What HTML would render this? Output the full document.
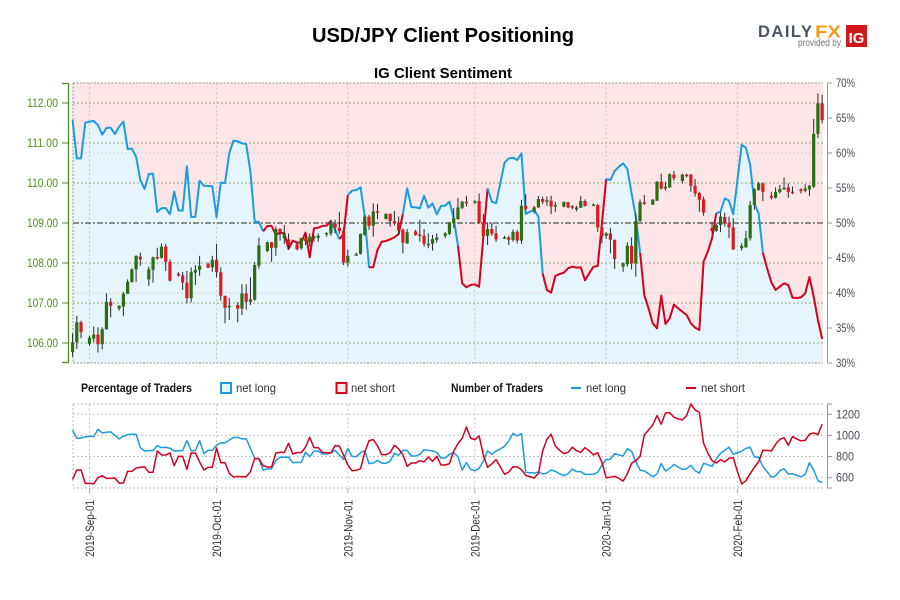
<!DOCTYPE html>
<html lang="en">
<head>
<meta charset="utf-8">
<title>USD/JPY Client Positioning</title>
<style>
html,body{margin:0;padding:0;background:#fff;width:900px;height:600px;overflow:hidden}
svg{display:block;font-family:"Liberation Sans",sans-serif}
</style>
</head>
<body>
<svg id="chart" width="900" height="600" viewBox="0 0 900 600" xmlns="http://www.w3.org/2000/svg">
  <rect x="0" y="0" width="900" height="600" fill="#ffffff"/>
  <text x="443" y="42" text-anchor="middle" font-size="20" font-weight="bold" fill="#000" textLength="262" lengthAdjust="spacingAndGlyphs">USD/JPY Client Positioning</text>
  <text x="443" y="78" text-anchor="middle" font-size="15" font-weight="bold" fill="#000" textLength="138" lengthAdjust="spacingAndGlyphs">IG Client Sentiment</text>
  <g>
    <text x="758" y="37" font-size="16.500" font-weight="bold" fill="#4a5560" textLength="54" lengthAdjust="spacing">DAILY</text>
    <text x="815" y="37.500" font-size="17.500" font-weight="bold" fill="#f39a1e" textLength="26" lengthAdjust="spacingAndGlyphs">FX</text>
    <text x="798" y="46" font-size="10" fill="#777" textLength="43" lengthAdjust="spacingAndGlyphs">provided by</text>
    <rect x="846" y="25" width="21" height="22" fill="#d0191c"/>
    <text x="856.500" y="43" text-anchor="middle" font-size="15" font-weight="bold" fill="#fff">IG</text>
  </g>
  <g id="main-layer"></g>
  <g id="legend-layer">
    <text x="81" y="392" font-size="12" font-weight="bold" fill="#111" textLength="111" lengthAdjust="spacingAndGlyphs">Percentage of Traders</text>
    <rect x="221" y="383" width="10" height="10" fill="#e6f4fc" stroke="#1b9be0" stroke-width="2"/>
    <text x="236" y="392" font-size="12" fill="#333" textLength="40" lengthAdjust="spacingAndGlyphs">net long</text>
    <rect x="336.500" y="383" width="10" height="10" fill="#fbe5e6" stroke="#d4001f" stroke-width="2"/>
    <text x="351" y="392" font-size="12" fill="#333" textLength="44" lengthAdjust="spacingAndGlyphs">net short</text>
    <text x="451" y="392" font-size="12" font-weight="bold" fill="#111" textLength="92" lengthAdjust="spacingAndGlyphs">Number of Traders</text>
    <line x1="571" y1="388" x2="581" y2="388" stroke="#1b9be0" stroke-width="2"/>
    <text x="586" y="392" font-size="12" fill="#333" textLength="40" lengthAdjust="spacingAndGlyphs">net long</text>
    <line x1="686" y1="388" x2="696" y2="388" stroke="#d4001f" stroke-width="2"/>
    <text x="701" y="392" font-size="12" fill="#333" textLength="44" lengthAdjust="spacingAndGlyphs">net short</text>
  </g>
  <g id="lower-layer"></g>
</svg>
<script>
const firstDay = -4;
const dateTicks = ['2019-09-01','2019-10-01','2019-11-01','2019-12-01','2020-01-01','2020-02-01'];
const dateTickLabels = ['2019-Sep-01','2019-Oct-01','2019-Nov-01','2019-Dec-01','2020-Jan-01','2020-Feb-01'];
const priceTicks = [106,107,108,109,110,111,112];
const priceTickLabels = ['106.00','107.00','108.00','109.00','110.00','111.00','112.00'];
const pctTicks = [30,35,40,45,50,55,60,65,70];
const pctTickLabels = ['30%','35%','40%','45%','50%','55%','60%','65%','70%'];
const countTicks = [600,800,1000,1200];
const countTickLabels = ['600','800','1000','1200'];

const candleDays = [-4,-3,-2,0,1,2,3,4,5,7,8,9,10,11,12,14,15,16,17,18,19,21,22,23,24,25,26,28,29,30,31,32,33,35,36,37,38,39,40,42,43,44,45,46,47,49,50,51,52,53,54,56,57,58,59,60,61,63,64,65,66,67,68,70,71,72,73,74,75,77,78,79,80,81,82,84,85,86,87,88,89,91,92,93,94,95,96,98,99,100,101,102,103,105,106,107,108,109,110,112,113,114,115,116,117,119,120,121,122,123,124,126,127,128,129,130,131,133,134,135,136,137,138,140,141,142,143,144,145,147,148,149,150,151,152,154,155,156,157,158,159,161,162,163,164,165,166,168,169,170,171,172,173];
const candleOpen = [105.77,106.02,106.52,105.98,106.11,106.21,105.97,106.34,107.03,106.86,106.91,107.23,107.52,107.84,108.16,107.59,107.83,108.15,108.13,108.41,108.03,107.73,107.69,107.51,107.12,107.76,107.83,107.98,107.89,108.08,107.77,107.18,106.91,106.95,106.86,107.24,107.03,107.08,107.93,108.30,108.52,108.38,108.85,108.62,108.59,108.47,108.37,108.62,108.52,108.64,108.63,108.73,108.74,108.99,108.88,108.80,108.01,108.20,108.23,108.70,109.16,108.93,109.29,109.10,109.23,109.05,109.01,108.83,108.49,108.79,108.71,108.68,108.47,108.48,108.58,108.68,108.73,108.99,109.10,109.38,109.53,109.53,109.55,109.01,108.68,108.85,108.74,108.63,108.64,108.58,108.78,108.56,109.43,109.29,109.39,109.60,109.55,109.56,109.41,109.41,109.52,109.42,109.34,109.38,109.55,109.44,109.45,108.89,108.68,108.74,108.58,107.91,107.97,108.43,107.99,109.05,109.52,109.46,109.56,110.03,109.86,109.89,110.21,110.05,110.21,110.21,109.93,109.75,109.59,108.88,108.80,108.95,109.15,108.99,108.89,108.37,108.39,108.62,109.45,109.83,109.99,109.68,109.63,109.77,109.85,109.89,109.78,109.84,109.81,109.84,109.91,111.23,111.99];
const candleHigh = [106.24,106.68,106.56,106.18,106.41,106.39,106.39,107.24,107.12,106.94,107.28,107.59,107.87,108.19,108.26,107.91,108.16,108.38,108.49,108.48,108.09,107.77,107.78,107.80,107.89,107.95,108.18,108.01,108.18,108.48,107.89,107.18,107.13,107.02,107.47,107.47,107.64,108.02,108.63,108.53,108.53,108.91,108.87,108.95,108.74,108.52,108.63,108.74,108.74,108.70,108.74,108.77,109.08,109.08,109.28,108.83,108.33,108.26,108.74,109.20,109.20,109.49,109.48,109.24,109.24,109.30,109.16,108.87,108.85,108.83,109.08,108.85,108.74,108.70,108.74,108.77,109.03,109.37,109.62,109.55,109.68,109.58,109.74,109.22,109.01,109.01,108.93,108.68,108.68,108.84,108.83,109.58,109.72,109.43,109.68,109.66,109.66,109.68,109.53,109.53,109.53,109.45,109.43,109.68,109.59,109.49,109.47,108.91,108.77,108.87,108.58,108.01,108.52,108.64,109.24,109.59,109.70,109.60,110.05,110.23,110.03,110.24,110.30,110.23,110.23,110.23,110.10,109.78,109.66,109.03,108.99,109.26,109.26,109.16,109.12,108.49,108.80,109.55,109.87,110.03,110.01,109.78,109.89,109.95,110.14,109.99,109.91,109.87,109.97,109.95,111.60,112.24,112.20];
const candleLow = [105.66,105.85,106.12,105.93,106.02,105.76,105.84,106.34,106.64,106.81,106.68,107.23,107.52,107.53,107.93,107.43,107.51,108.08,108.11,107.80,107.54,107.66,107.33,106.99,107.02,107.45,107.68,107.87,107.78,107.64,107.06,106.49,106.58,106.52,106.70,106.83,106.95,107.06,107.86,108.27,108.03,108.18,108.56,108.48,108.35,108.31,108.33,108.45,108.41,108.53,108.53,108.66,108.68,108.74,108.73,107.95,107.91,108.18,108.21,108.68,108.83,108.66,109.10,109.09,108.91,108.94,108.70,108.24,108.48,108.68,108.53,108.41,108.37,108.31,108.51,108.62,108.70,108.88,109.08,109.35,109.41,109.48,108.98,108.66,108.45,108.68,108.53,108.60,108.45,108.53,108.49,108.48,109.33,109.24,109.38,109.47,109.43,109.22,109.28,109.39,109.37,109.34,109.29,109.38,109.41,109.43,108.78,108.49,108.60,108.24,107.85,107.78,107.91,107.84,107.66,109.03,109.45,109.45,109.55,109.84,109.81,109.88,110.06,109.99,110.14,109.78,109.66,109.28,109.18,108.74,108.78,108.77,108.91,108.62,108.33,108.31,108.38,108.56,109.33,109.81,109.55,109.59,109.61,109.74,109.83,109.63,109.72,109.74,109.77,109.68,109.87,111.12,111.49];
const candleClose = [106.02,106.52,106.27,106.13,106.21,105.97,106.34,107.03,106.93,106.93,107.23,107.53,107.84,108.18,108.09,107.84,108.14,108.12,108.41,108.03,107.56,107.69,107.51,107.12,107.77,107.83,107.93,107.88,108.08,107.77,107.18,106.88,106.93,106.86,107.24,107.03,107.09,107.95,108.44,108.52,108.38,108.85,108.76,108.74,108.45,108.34,108.62,108.55,108.66,108.66,108.68,108.75,108.99,108.88,108.80,108.01,108.18,108.22,108.73,109.16,108.93,109.29,109.27,109.23,109.05,108.99,108.81,108.51,108.77,108.70,108.68,108.48,108.48,108.60,108.64,108.74,109.01,109.12,109.39,109.53,109.50,109.54,109.01,108.68,108.85,108.73,108.59,108.64,108.58,108.78,108.56,109.43,109.35,109.39,109.60,109.53,109.57,109.41,109.45,109.53,109.39,109.40,109.39,109.55,109.43,109.46,108.89,108.66,108.74,108.58,108.10,107.99,108.43,107.99,109.05,109.52,109.48,109.58,110.03,109.86,109.91,110.22,110.12,110.21,110.17,109.93,109.74,109.58,109.26,108.80,108.95,109.16,108.99,108.89,108.34,108.43,108.62,109.45,109.84,109.99,109.78,109.63,109.78,109.85,109.88,109.78,109.76,109.80,109.86,109.93,111.23,111.99,111.57];

const netLongPct = [64.71,59.24,59.24,64.33,64.48,64.57,64.0,62.62,63.57,63.62,62.71,63.76,64.48,60.57,60.62,59.48,56.14,54.86,57.0,57.05,51.57,52.1,52.14,51.24,54.48,51.76,51.76,58.1,50.86,50.9,56.05,55.33,55.29,55.24,50.86,55.76,55.71,59.95,61.76,61.67,61.38,61.29,57.33,50.19,50.14,48.81,49.57,49.57,48.29,48.62,48.52,46.29,47.48,47.19,47.19,48.62,45.1,49.24,49.33,49.57,49.62,50.29,49.0,47.71,48.43,54.0,54.62,54.71,55.1,50.9,43.67,43.67,46.14,47.33,47.43,47.67,47.95,48.43,51.29,54.95,52.29,52.24,52.1,53.9,52.19,52.81,51.24,52.43,52.48,53.05,50.67,46.76,41.38,40.81,41.14,41.24,40.9,48.05,54.95,53.05,52.81,55.67,58.62,59.24,59.33,59.0,59.95,51.29,51.62,51.86,50.9,42.81,40.43,40.05,42.43,42.71,42.9,43.52,43.76,43.62,43.67,41.81,42.81,43.76,43.86,49.95,56.29,56.14,57.43,58.05,58.52,57.71,54.24,50.9,45.76,39.71,37.81,35.67,34.95,39.62,35.57,36.38,38.33,37.81,37.33,36.86,35.67,35.05,34.71,44.48,45.9,47.81,51.38,51.62,53.52,53.19,51.24,56.14,61.19,60.76,58.29,52.81,51.38,45.76,43.52,41.52,40.43,40.9,41.38,41.14,39.33,39.29,39.38,39.95,42.29,39.48,36.14,33.43];
const sideFlipDays = [41,57,59,61,66,74,87,94,107,122,130,148,159];

const netLongCount = [1052,973,976,986,992,989,1058,1023,1030,1033,1001,967,992,1008,1011,1011,884,853,856,856,903,884,888,878,853,856,856,951,856,856,951,828,859,859,907,929,929,957,979,982,967,967,878,783,777,673,682,685,764,793,793,796,742,745,745,840,799,850,853,824,824,834,859,815,774,875,802,799,837,856,733,739,764,739,736,758,831,812,859,859,805,805,821,865,859,853,840,786,786,821,837,799,673,742,679,666,688,758,853,821,853,872,897,948,1020,995,1017,651,647,644,654,635,644,673,660,638,619,638,682,657,657,632,632,632,651,720,771,774,828,815,805,875,850,752,673,663,638,609,635,733,663,688,726,701,679,685,717,666,644,736,723,707,777,831,859,888,821,837,850,878,888,796,793,707,657,606,616,666,685,635,638,622,609,632,742,673,572,553];
const netShortCount = [584,673,673,546,546,543,600,619,594,594,597,549,549,660,660,692,698,704,651,651,853,815,815,834,714,802,802,679,834,834,749,673,698,698,881,742,742,641,606,613,609,609,657,783,780,714,701,701,834,840,840,925,824,837,837,888,982,884,884,840,837,834,903,900,812,720,666,670,685,840,951,960,903,818,818,837,907,872,818,707,739,739,761,749,796,755,802,720,720,733,853,922,973,1080,973,960,995,815,698,730,771,704,632,654,704,701,676,622,609,597,641,853,963,1011,900,859,828,840,888,856,840,884,853,815,837,745,600,606,613,594,568,638,736,761,802,1004,1052,1099,1188,1106,1213,1216,1172,1156,1147,1188,1298,1241,1219,925,834,761,739,771,749,783,790,657,540,572,638,698,752,859,859,853,916,963,979,907,989,967,948,954,1011,1023,1008,1106];

const NS = 'http://www.w3.org/2000/svg';
const plot = {left:73,right:823,top:83,bottom:363,lowTop:404,lowBottom:488};
const BLUE = '#1b9be0', RED = '#d4001f';

function xScale(day){ return 89.5 + day * 4.235; }
function priceY(p){ return 343 - (p - 106) * 40; }
function pctY(v){ return 363 - (v - 30) * 7; }
function countY(v){ return 477.7 - (v - 600) * 0.1057; }
function dayOf(iso){ return Math.round((Date.parse(iso + 'T00:00:00Z') - Date.UTC(2019,8,1)) / 86400000); }
function mk(parent, tag, attrs){
  const el = document.createElementNS(NS, tag);
  for (const k in attrs) el.setAttribute(k, attrs[k]);
  parent.appendChild(el);
  return el;
}
function lineD(values, yFn, from, to){
  let d = '';
  for (let i = 0; i < values.length; i++){
    const day = firstDay + i;
    if (day < from || day > to) continue;
    d += (d ? 'L' : 'M') + xScale(day).toFixed(2) + ' ' + yFn(values[i]).toFixed(2);
  }
  return d;
}

const main = document.getElementById('main-layer');
const lower = document.getElementById('lower-layer');

/* sentiment panel background */
const pinkBg = mk(main, 'rect', {x:plot.left, y:plot.top, width:plot.right-plot.left, height:plot.bottom-plot.top, fill:'#fbe5e6'});


const lastDay = firstDay + netLongPct.length - 1;
const areaD = lineD(netLongPct, pctY, firstDay, lastDay) + 'L' + xScale(lastDay).toFixed(2) + ' ' + plot.bottom + 'L' + xScale(firstDay).toFixed(2) + ' ' + plot.bottom + 'Z';
const blueArea = mk(main, 'path', {d:areaD, fill:'#e6f4fc'});



/* percentage grid */
[40,60].forEach(function(v){
  const g = mk(main, 'line', {x1:plot.left, x2:plot.right, y1:pctY(v), y2:pctY(v), stroke:'#d5d0d0', 'stroke-width':1, 'stroke-dasharray':'2 2'});
  
  
});
/* date grid */
dateTicks.forEach(function(iso, i){
  const x = xScale(dayOf(iso));
  const g = mk(main, 'line', {x1:x, x2:x, y1:plot.top, y2:plot.bottom, stroke:'#c4c4c4', 'stroke-width':1, 'stroke-dasharray':'2 2.500'});
  
  
  const g2 = mk(lower, 'line', {x1:x, x2:x, y1:plot.lowTop, y2:plot.lowBottom, stroke:'#c4c4c4', 'stroke-width':1, 'stroke-dasharray':'2 2.500'});
  
  
  const t = mk(lower, 'line', {x1:x, x2:x, y1:plot.lowBottom, y2:plot.lowBottom+5, stroke:'#aaaaaa', 'stroke-width':1});
  
  
  const lab = mk(lower, 'text', {transform:'translate(' + (x+4.5) + ' 500) rotate(-90)', 'text-anchor':'end', 'font-size':12, fill:'#333', textLength:57, lengthAdjust:'spacingAndGlyphs'});
  
  
  lab.textContent = dateTickLabels[i];
});
/* price grid and left axis */
priceTicks.forEach(function(p, i){
  const y = priceY(p);
  const g = mk(main, 'line', {x1:plot.left, x2:plot.right, y1:y, y2:y, stroke:'#a9b890', 'stroke-width':1.2, 'stroke-dasharray':'2 2'});
  
  
  const t = mk(main, 'line', {x1:62, x2:68, y1:y, y2:y, stroke:'#4c8f20', 'stroke-width':1});
  
  
  const lab = mk(main, 'text', {x:58, y:y+4, 'text-anchor':'end', 'font-size':12, fill:'#4c8f20', textLength:31, lengthAdjust:'spacingAndGlyphs'});
  
  
  lab.textContent = priceTickLabels[i];
});
[[plot.left,plot.top,plot.right,plot.top],[plot.left,plot.bottom,plot.right,plot.bottom],[plot.left,plot.top,plot.left,plot.bottom]].forEach(function(c){
  const f = mk(main, 'line', {x1:c[0], y1:c[1], x2:c[2], y2:c[3], stroke:'#a9a99a', 'stroke-width':1.300, 'stroke-dasharray':'2 1.500'});
  
  
});
const leftAxis = mk(main, 'path', {d:'M62 83.500H68.500V362.500H62', fill:'none', stroke:'#4c8f20', 'stroke-width':1.300});



/* 50% reference line */
const mid = mk(main, 'line', {x1:plot.left, x2:plot.right, y1:pctY(50), y2:pctY(50), stroke:'#555a55', 'stroke-width':1.300, 'stroke-dasharray':'6 2 2 2'});



/* right percentage axis */
const rightAxis = mk(main, 'line', {x1:827.5, x2:827.5, y1:pctY(70), y2:pctY(30), stroke:'#999', 'stroke-width':1});


pctTicks.forEach(function(v, i){
  const y = pctY(v);
  const t = mk(main, 'line', {x1:827.5, x2:832, y1:y, y2:y, stroke:'#999', 'stroke-width':1});
  
  
  const lab = mk(main, 'text', {x:836, y:y+4, 'font-size':12, fill:'#444c55', textLength:19, lengthAdjust:'spacingAndGlyphs'});
  
  
  lab.textContent = pctTickLabels[i];
});

/* sentiment line, coloured per side */
const bounds = [firstDay].concat(sideFlipDays, [lastDay]);
for (let i = 0; i < bounds.length - 1; i++){
  const seg = mk(main, 'path', {d:lineD(netLongPct, pctY, bounds[i], bounds[i+1]), fill:'none', stroke:(i % 2 === 0 ? BLUE : RED), 'stroke-width':2, 'stroke-linejoin':'round'});
  
  
}

/* candles */
candleDays.forEach(function(day, i){
  const x = xScale(day);
  const o = candleOpen[i], c = candleClose[i];
  const up = c >= o;
  const wick = mk(main, 'line', {x1:x, x2:x, y1:priceY(candleHigh[i]), y2:priceY(candleLow[i]), stroke:'#2a2a2a', 'stroke-width':1});
  
  
  const top = priceY(Math.max(o, c));
  const h = Math.max(1.5, Math.abs(priceY(o) - priceY(c)));
  const body = mk(main, 'rect', {x:x-1.600, y:top, width:3.200, height:h, fill:(up ? '#2b6e14' : '#dc1a22')});
  
  
});

/* lower panel grid and frame */
countTicks.forEach(function(v, i){
  const y = countY(v);
  const g = mk(lower, 'line', {x1:plot.left, x2:plot.right, y1:y, y2:y, stroke:'#c4c4c4', 'stroke-width':1, 'stroke-dasharray':'2 2'});
  
  
  const t = mk(lower, 'line', {x1:827.5, x2:832, y1:y, y2:y, stroke:'#999', 'stroke-width':1});
  
  
  const label = countTickLabels[i];
  const lab = mk(lower, 'text', {x:836, y:y+4, 'font-size':12, fill:'#444c55', textLength:(label.length === 4 ? 24 : 18), lengthAdjust:'spacingAndGlyphs'});
  
  
  lab.textContent = label;
});
[[plot.left,plot.lowTop,plot.right,plot.lowTop],[plot.left,plot.lowBottom,plot.right,plot.lowBottom],[plot.left,plot.lowTop,plot.left,plot.lowBottom]].forEach(function(c){
  const f = mk(lower, 'line', {x1:c[0], y1:c[1], x2:c[2], y2:c[3], stroke:'#bdbdbd', 'stroke-width':1, 'stroke-dasharray':'2 2'});
  
  
});
const lowAxis = mk(lower, 'path', {d:'M832 404H827.500V488H832', fill:'none', stroke:'#999', 'stroke-width':1});



/* lower panel series */
const longLine = mk(lower, 'path', {d:lineD(netLongCount, countY, firstDay, lastDay), fill:'none', stroke:BLUE, 'stroke-width':1.500, 'stroke-linejoin':'round'});


const shortLine = mk(lower, 'path', {d:lineD(netShortCount, countY, firstDay, lastDay), fill:'none', stroke:RED, 'stroke-width':1.500, 'stroke-linejoin':'round'});


</script>
</body>
</html>
